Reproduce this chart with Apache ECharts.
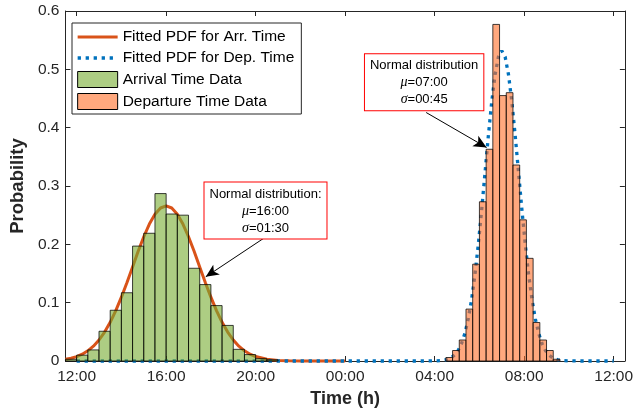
<!DOCTYPE html>
<html>
<head>
<meta charset="utf-8">
<script src="https://cdn.jsdelivr.net/npm/echarts@6/dist/echarts.min.js"></script>
<style>html,body{margin:0;padding:0;background:#fff}#c{width:636px;height:417px}</style>
</head>
<body>
<div id="c"></div>
<script>
// x values are hours after 12:00 (noon)
const xTickValues = [0, 4, 8, 12, 16, 20, 24];
const xTickLabels = ['12:00', '16:00', '20:00', '00:00', '04:00', '08:00', '12:00'];

// Arrival histogram: bins of 0.5 h starting at 11:30
const arrBinStart = [-0.5, 0, 0.5, 1, 1.5, 2, 2.5, 3, 3.5, 4, 4.5, 5, 5.5, 6, 6.5, 7, 7.5, 8, 8.5];
const arrBinWidth = 0.5;
const arrValues = [0.003, 0.010, 0.019, 0.051, 0.087, 0.117, 0.197, 0.219, 0.287, 0.252, 0.250, 0.159, 0.131, 0.095, 0.061, 0.020, 0.011, 0.004, 0.002];

// Departure histogram: bins of 0.3 h starting at 04:30
const depBinStart = [16.5, 16.8, 17.1, 17.4, 17.7, 18.0, 18.3, 18.6, 18.9, 19.2, 19.5, 19.8, 20.1, 20.4, 20.7, 21.0, 21.3];
const depBinWidth = 0.3;
const depValues = [0.006, 0.018, 0.036, 0.089, 0.166, 0.273, 0.363, 0.577, 0.455, 0.460, 0.336, 0.242, 0.176, 0.066, 0.036, 0.018, 0.003];

// Fitted PDF curves
const arrCurveX = [-0.5, -0.25, 0, 0.25, 0.5, 0.75, 1, 1.25, 1.5, 1.75, 2, 2.25, 2.5, 2.75, 3, 3.25, 3.5, 3.75, 4, 4.25, 4.5, 4.75, 5, 5.25, 5.5, 5.75, 6, 6.25, 6.5, 6.75, 7, 7.25, 7.5, 7.75, 8, 8.5, 9, 9.5, 10, 11, 12];
const arrCurveY = [0.0030, 0.0048, 0.0076, 0.0117, 0.0175, 0.0254, 0.0360, 0.0496, 0.0663, 0.0864, 0.1094, 0.1347, 0.1613, 0.1880, 0.2130, 0.2347, 0.2516, 0.2623, 0.2660, 0.2623, 0.2516, 0.2347, 0.2130, 0.1880, 0.1613, 0.1347, 0.1094, 0.0864, 0.0663, 0.0496, 0.0360, 0.0254, 0.0175, 0.0117, 0.0076, 0.0030, 0.0010, 0.0003, 0.0001, 0, 0];

const depCurveX = [0, 2, 4, 6, 8, 10, 12, 14, 15.5, 16, 16.25, 16.5, 16.75, 16.9, 17.05, 17.2, 17.35, 17.5, 17.65, 17.8, 17.95, 18.1, 18.25, 18.4, 18.55, 18.7, 18.85, 19, 19.15, 19.3, 19.45, 19.6, 19.75, 19.9, 20.05, 20.2, 20.35, 20.5, 20.65, 20.8, 20.95, 21.1, 21.25, 21.5, 21.75, 22, 22.5, 23, 24];
const depCurveY = [0, 0, 0, 0, 0, 0, 0, 0, 0, 0.0002, 0.0006, 0.0021, 0.0059, 0.0106, 0.0181, 0.0298, 0.0473, 0.0720, 0.1053, 0.1479, 0.1996, 0.2589, 0.3226, 0.3862, 0.4443, 0.4910, 0.5214, 0.5319, 0.5214, 0.4910, 0.4443, 0.3862, 0.3226, 0.2589, 0.1996, 0.1479, 0.1053, 0.0720, 0.0473, 0.0298, 0.0181, 0.0106, 0.0059, 0.0021, 0.0006, 0.0002, 0, 0, 0];

const legendNames = ['Fitted PDF for Arr. Time', 'Fitted PDF for Dep. Time', 'Arrival Time Data', 'Departure Time Data'];

const FONT = '"Liberation Sans", Arial, Helvetica, sans-serif';
const AXC = '#262626';
const ORANGE = '#D95319';
const BLUE = '#0072BD';
const GREEN_FILL = 'rgba(119,172,48,0.6)';
const SALMON_FILL = 'rgba(255,110,40,0.6)';

function zip(a, b) { return a.map((v, i) => [v, b[i]]); }
function bins(starts, width, vals) { return starts.map((s, i) => [s, s + width, vals[i]]); }

function histRender(fill) {
  return function (params, api) {
    const p0 = api.coord([api.value(0), 0]);
    const p1 = api.coord([api.value(1), api.value(2)]);
    return {
      type: 'rect',
      shape: { x: p0[0], y: p1[1], width: p1[0] - p0[0], height: p0[1] - p1[1] },
      style: { fill: fill, stroke: 'rgba(0,0,0,0.75)', lineWidth: 1 }
    };
  };
}

function fmtTick(v) {
  const i = xTickValues.indexOf(v);
  return i >= 0 ? xTickLabels[i] : '';
}

const chart = echarts.init(document.getElementById('c'), null, { renderer: 'canvas' });

const option = {
  animation: false,
  backgroundColor: '#fff',
  textStyle: { fontFamily: FONT },
  grid: { left: 62, right: 8, top: 11, bottom: 56, containLabel: false },
  legend: {
    data: [
      { name: legendNames[0], itemStyle: { opacity: 0 }, lineStyle: { color: ORANGE, width: 3 } },
      { name: legendNames[1], itemStyle: { opacity: 0 }, lineStyle: { color: BLUE, width: 3.3, type: [3.3, 4.7] } },
      { name: legendNames[2], icon: 'rect', itemStyle: { color: GREEN_FILL, borderColor: '#000', borderWidth: 1 } },
      { name: legendNames[3], icon: 'rect', itemStyle: { color: SALMON_FILL, borderColor: '#000', borderWidth: 1 } }
    ],
    orient: 'vertical',
    left: 72, top: 23,
    itemWidth: 40, itemHeight: 16, itemGap: 5,
    padding: [6, 7, 4, 4],
    borderColor: AXC, borderWidth: 1, backgroundColor: '#fff',
    textStyle: { fontFamily: FONT, fontSize: 15.5, color: '#000' },
    selectedMode: false,
    zlevel: 2, z: 50
  },
  xAxis: [{
    type: 'value', min: -0.5, max: 24.5, position: 'bottom',
    name: 'Time (h)', nameLocation: 'middle', nameGap: 27,
    nameTextStyle: { fontFamily: FONT, fontSize: 18, fontWeight: 'bold', color: AXC },
    axisLine: { show: true, onZero: false, lineStyle: { color: AXC, width: 1 } },
    axisTick: { show: true, inside: true, length: 5, customValues: xTickValues, lineStyle: { color: AXC } },
    axisLabel: { customValues: xTickValues, formatter: fmtTick, fontFamily: FONT, fontSize: 15.5, color: AXC, margin: 8 },
    splitLine: { show: false }
  }, {
    type: 'value', min: -0.5, max: 24.5, position: 'top',
    axisLine: { show: true, onZero: false, lineStyle: { color: AXC, width: 1 } },
    axisTick: { show: true, inside: true, length: 5, customValues: xTickValues, lineStyle: { color: AXC } },
    axisLabel: { show: false },
    splitLine: { show: false }
  }],
  yAxis: [{
    type: 'value', min: 0, max: 0.6, interval: 0.1, position: 'left',
    name: 'Probability', nameLocation: 'middle', nameGap: 33,
    nameTextStyle: { fontFamily: FONT, fontSize: 18.5, fontWeight: 'bold', color: AXC },
    axisLine: { show: true, onZero: false, lineStyle: { color: AXC, width: 1 } },
    axisTick: { show: true, inside: true, length: 5, lineStyle: { color: AXC } },
    axisLabel: { fontFamily: FONT, fontSize: 15.5, color: AXC, margin: 6, formatter: v => (v === 0 ? '0' : v.toFixed(1)) },
    splitLine: { show: false }
  }, {
    type: 'value', min: 0, max: 0.6, interval: 0.1, position: 'right',
    axisLine: { show: true, onZero: false, lineStyle: { color: AXC, width: 1 } },
    axisTick: { show: true, inside: true, length: 5, lineStyle: { color: AXC } },
    axisLabel: { show: false },
    splitLine: { show: false }
  }],
  series: [
    {
      name: legendNames[0], type: 'line', xAxisIndex: 0, yAxisIndex: 0,
      data: zip(arrCurveX, arrCurveY), symbol: 'none', smooth: false, z: 2, clip: false,
      lineStyle: { color: ORANGE, width: 3 }, itemStyle: { color: ORANGE },
      markLine: {
        silent: true, symbol: ['none', 'arrow'], symbolSize: [9, 13],
        label: { show: false },
        lineStyle: { color: '#000', width: 1, type: 'solid' },
        data: [[{ coord: [8.33, 0.2096] }, { coord: [5.77, 0.1443] }]]
      }
    },
    {
      name: legendNames[1], type: 'line', xAxisIndex: 0, yAxisIndex: 0,
      data: zip(depCurveX, depCurveY), symbol: 'none', smooth: false, zlevel: 1, z: 10, clip: false,
      lineStyle: { color: BLUE, width: 3.3, type: [3.3, 4.7] }, itemStyle: { color: BLUE },
      markLine: {
        silent: true, symbol: ['none', 'arrow'], symbolSize: [9, 13],
        label: { show: false },
        lineStyle: { color: '#000', width: 1, type: 'solid' },
        data: [[{ coord: [15.62, 0.426] }, { coord: [18.32, 0.366] }]]
      }
    },
    {
      name: legendNames[2], type: 'custom', xAxisIndex: 0, yAxisIndex: 0, zlevel: 1, z: 20,
      renderItem: histRender(GREEN_FILL),
      itemStyle: { color: GREEN_FILL, borderColor: '#000', borderWidth: 1 },
      encode: { x: [0, 1], y: 2 },
      data: bins(arrBinStart, arrBinWidth, arrValues)
    },
    {
      name: legendNames[3], type: 'custom', xAxisIndex: 0, yAxisIndex: 0, zlevel: 1, z: 20,
      renderItem: histRender(SALMON_FILL),
      itemStyle: { color: SALMON_FILL, borderColor: '#000', borderWidth: 1 },
      encode: { x: [0, 1], y: 2 },
      data: bins(depBinStart, depBinWidth, depValues)
    }
  ]
};

chart.setOption(option);

function annot(dataPt, lines) {
  const p = chart.convertToPixel({ gridIndex: 0 }, dataPt);
  return {
    type: 'text', x: p[0], y: p[1], zlevel: 2, z: 100,
    style: {
      text: lines,
      align: 'center', verticalAlign: 'middle',
      fontFamily: FONT, fontSize: 13, lineHeight: 17, fill: '#000',
      backgroundColor: '#fff', borderColor: '#FF0000', borderWidth: 1,
      padding: [3, 5, 2, 5],
      rich: {
        n: { fontFamily: FONT, fontSize: 13, lineHeight: 17, fill: '#000' },
        g: { fontFamily: '"Liberation Serif", "Times New Roman", serif', fontStyle: 'italic', fontSize: 14, lineHeight: 17, fill: '#000' }
      }
    }
  };
}

chart.setOption({
  graphic: [
    annot([8.44, 0.258], '{n|Normal distribution:}\n{g|μ}{n|=16:00}\n{g|σ}{n|=01:30}'),
    annot([15.53, 0.478], '{n|Normal distribution}\n{g|μ}{n|=07:00}\n{g|σ}{n|=00:45}')
  ]
});
</script>
</body>
</html>
